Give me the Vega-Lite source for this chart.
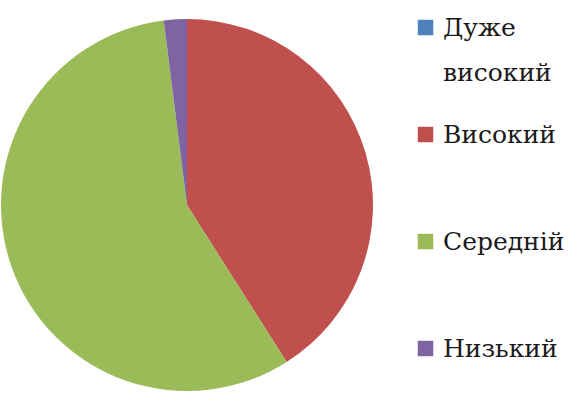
{
  "$schema": "https://vega.github.io/schema/vega-lite/v6.json",
  "width": 374,
  "height": 410,
  "padding": 0,
  "autosize": {"type": "pad"},
  "background": "white",
  "data": {
    "values": [
      {"category": "Дуже високий", "value": 0, "rank": 1},
      {"category": "Високий", "value": 41, "rank": 2},
      {"category": "Середній", "value": 57, "rank": 3},
      {"category": "Низький", "value": 2, "rank": 4}
    ]
  },
  "mark": {"type": "arc", "outerRadius": 186, "stroke": null},
  "encoding": {
    "theta": {"field": "value", "type": "quantitative", "stack": true},
    "order": {"field": "rank", "type": "quantitative"},
    "color": {
      "field": "category",
      "type": "nominal",
      "sort": ["Дуже високий", "Високий", "Середній", "Низький"],
      "scale": {
        "domain": ["Дуже високий", "Високий", "Середній", "Низький"],
        "range": ["#4F81BD", "#C0504D", "#9BBB59", "#8064A2"]
      },
      "legend": {
        "title": null,
        "orient": "none",
        "legendX": 413,
        "legendY": 15,
        "gridAlign": "all",
        "symbolType": "square",
        "symbolSize": 240,
        "symbolStrokeWidth": 0,
        "labelFont": "DejaVu Serif",
        "labelFontSize": 25,
        "labelColor": "#1a1a1a",
        "labelLimit": 200,
        "labelOffset": 5,
        "rowPadding": 36,
        "labelExpr": "datum.label == 'Дуже високий' ? ['Дуже', 'високий'] : datum.label"
      }
    }
  },
  "config": {"view": {"stroke": null}, "style": {"guide-label": {"lineHeight": 45}}}
}
